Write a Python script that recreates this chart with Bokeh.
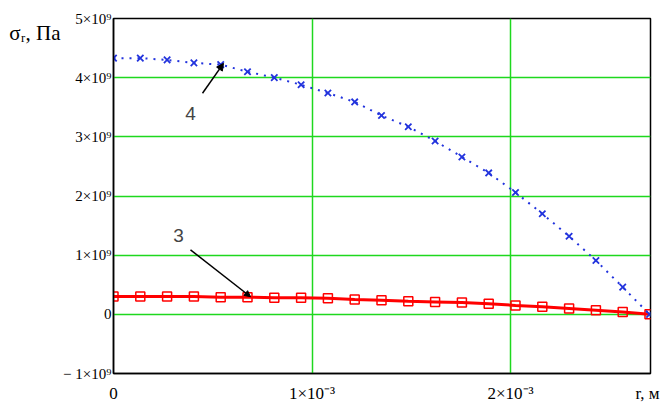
from bokeh.plotting import figure
from bokeh.models import (Range1d, FixedTicker, Label, Arrow, NormalHead, ColumnDataSource,
                          LinearAxis)
from bokeh.embed import file_html
from bokeh.resources import INLINE

# ---- data ----
r = [i * 0.135e-3 for i in range(21)]
sigma4 = [4.33e9, 4.33e9, 4.30e9, 4.25e9, 4.22e9, 4.10e9, 4.00e9, 3.88e9, 3.74e9,
          3.59e9, 3.36e9, 3.17e9, 2.93e9, 2.66e9, 2.39e9, 2.06e9, 1.70e9, 1.32e9,
          0.91e9, 0.46e9, 0.0]
sigma3 = [0.30e9, 0.30e9, 0.30e9, 0.30e9, 0.29e9, 0.29e9, 0.28e9, 0.28e9, 0.27e9,
          0.25e9, 0.24e9, 0.22e9, 0.21e9, 0.20e9, 0.18e9, 0.15e9, 0.13e9, 0.10e9,
          0.07e9, 0.04e9, 0.0]
y_ticks = [-1e9, 0, 1e9, 2e9, 3e9, 4e9, 5e9]
y_tick_labels = ["\u2212 1\u00d710\u2079", "0", "1\u00d710\u2079", "2\u00d710\u2079",
                 "3\u00d710\u2079", "4\u00d710\u2079", "5\u00d710\u2079"]
x_ticks = [0, 1e-3, 2e-3]
x_tick_labels = ["0", "1\u00d710\u207b\u00b3", "2\u00d710\u207b\u00b3"]
x_title = "r, \u043c"
y_title = "\u03c3\u1d63, \u041f\u0430"

W, H = 671, 405
L, R, T, B = 113, 21, 18, 31
XMAX = 2.705e-3
YMIN, YMAX = -1e9, 5e9
FW, FH = W - L - R, H - T - B


def X(px):
    return (px - L) / FW * XMAX


def Y(py):
    return YMAX - (py - T) / FH * (YMAX - YMIN)


p = figure(width=W, height=H, output_backend="svg", toolbar_location=None,
           x_range=Range1d(0, XMAX), y_range=Range1d(YMIN, YMAX),
           min_border_left=L, min_border_right=R, min_border_top=T, min_border_bottom=B)
p.background_fill_color = "white"
p.border_fill_color = "white"
p.outline_line_color = "black"
p.outline_line_width = 1.5

GREEN = "#1ed81e"
p.xgrid.ticker = FixedTicker(ticks=x_ticks)
p.ygrid.ticker = FixedTicker(ticks=y_ticks)
for g in (p.xgrid, p.ygrid):
    g.grid_line_color = GREEN
    g.grid_line_width = 1.5

SERIF = "Liberation Serif"
# x axis: numeric ticks plus the axis title placed at the right end
x_title_pos = 2.69e-3
p.xaxis.ticker = FixedTicker(ticks=x_ticks + [x_title_pos])
ov = {t: s for t, s in zip(x_ticks, x_tick_labels)}
ov[x_title_pos] = x_title
p.xaxis.major_label_overrides = ov
p.yaxis.ticker = FixedTicker(ticks=y_ticks)
p.yaxis.major_label_overrides = {t: s for t, s in zip(y_ticks, y_tick_labels)}
for ax in (p.xaxis, p.yaxis):
    ax.major_tick_in = 0
    ax.major_tick_out = 0
    ax.minor_tick_in = 0
    ax.minor_tick_out = 0
    ax.axis_line_color = "black"
    ax.axis_line_width = 1.5
    ax.major_label_text_font = SERIF
    ax.major_label_text_color = "black"
p.xaxis.major_label_text_font_size = "17px"
p.yaxis.major_label_text_font_size = "15px"
p.xaxis.major_label_standoff = 10
p.yaxis.major_label_standoff = 2

# y axis title as a second, outer left axis with a single labelled tick near the top
y_title_pos = 4.75e9
ytitle_axis = LinearAxis(ticker=FixedTicker(ticks=[y_title_pos]),
                         major_label_overrides={y_title_pos: y_title},
                         axis_line_color=None, major_tick_in=0, major_tick_out=0,
                         minor_tick_in=0, minor_tick_out=0, major_label_standoff=0,
                         major_label_text_font=SERIF, major_label_text_font_size="21px",
                         major_label_text_color="black")
p.add_layout(ytitle_axis, "left")

src = ColumnDataSource(dict(r=r, s3=sigma3, s4=sigma4))

# curve 3 (red)
p.line("r", "s3", source=src, line_color="red", line_width=3)
p.scatter("r", "s3", source=src, marker="square", size=9, fill_color=None,
          line_color="red", line_width=1.5)

# curve 4 (blue dotted)
p.line("r", "s4", source=src, line_color="#2233dd", line_width=2, line_dash="2 6")
p.scatter("r", "s4", source=src, marker="x", size=9, line_color="#2233dd", line_width=1.8)

# annotations (curve numbers with leader arrows)
p.add_layout(Arrow(end=NormalHead(size=7, fill_color="black", line_color="black"),
                   x_start=X(202), y_start=Y(93), x_end=X(223), y_end=Y(63),
                   line_color="black", line_width=1.5))
p.add_layout(Arrow(end=NormalHead(size=6, fill_color="black", line_color="black"),
                   x_start=X(190), y_start=Y(250), x_end=X(250), y_end=Y(297),
                   line_color="black", line_width=1.5))
p.add_layout(Label(x=X(190), y=Y(113), text="4", text_font="Liberation Sans",
                   text_font_size="19px", text_align="center", text_baseline="middle"))
p.add_layout(Label(x=X(178), y=Y(236), text="3", text_font="Liberation Sans",
                   text_font_size="19px", text_align="center", text_baseline="middle"))

open("out.html", "w").write(file_html(p, INLINE))
